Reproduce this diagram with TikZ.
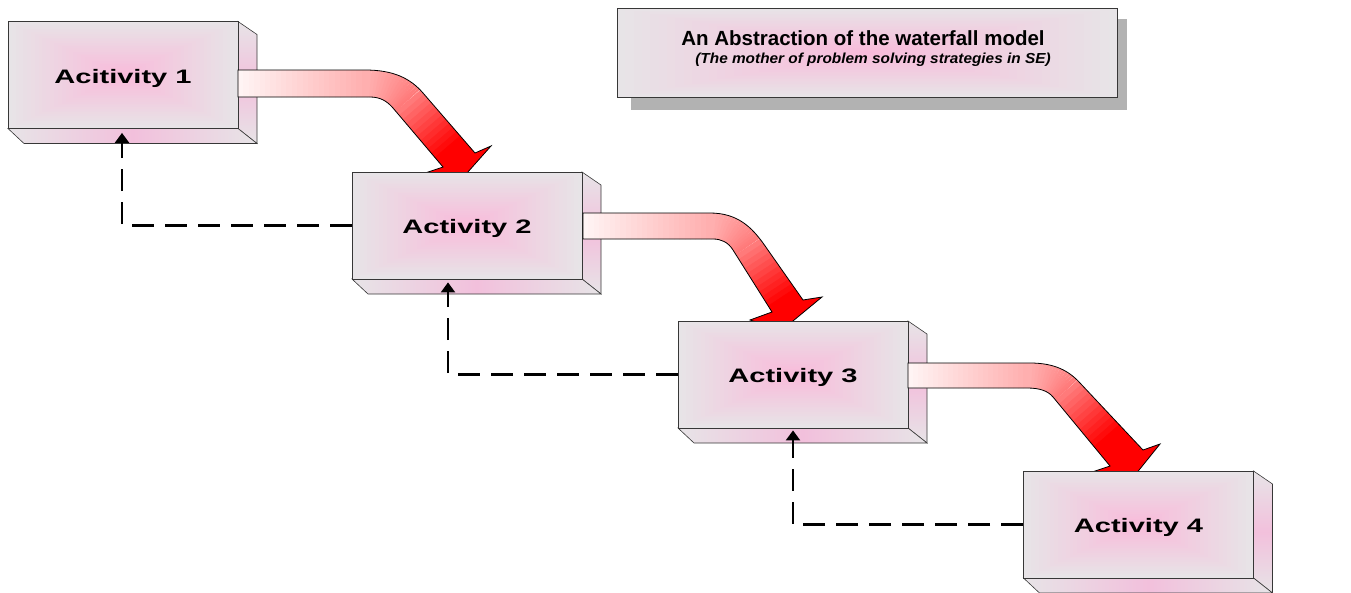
\documentclass[tikz,border=0pt]{standalone}
\usepackage{fontspec}
\setmainfont{Liberation Sans}
\usepackage{graphicx}
\usetikzlibrary{arrows.meta}

\definecolor{faceedge}{RGB}{231,228,231}
\definecolor{facecore}{RGB}{249,186,218}
\definecolor{sidepink}{RGB}{242,192,220}
\definecolor{outline}{RGB}{55,55,55}
\definecolor{shadowgray}{RGB}{178,178,178}
\definecolor{flowpale}{RGB}{255,244,244}
\definecolor{flowpink}{RGB}{255,175,175}
\definecolor{flowmid}{RGB}{255,122,122}

\tikzset{
  actnode/.style={draw=outline, line width=0.8pt, minimum width=230, minimum height=107,
    inner sep=0pt, text height=16pt, text depth=0pt,
    font=\bfseries\fontsize{19.5}{20}\selectfont},
  facedraw/.style={draw=outline, line width=0.6pt},
  flowedge/.style={draw=black, line width=0.8pt, line join=miter},
  flowband/.style={line width=90pt, line cap=butt},
  feedback/.style={draw=black, line width=2.2pt, dash pattern=on 22pt off 11pt,
    -{Triangle[length=10pt,width=14pt]}},
  titlenode/.style={draw=outline, line width=0.8pt, minimum width=500, minimum height=89,
    inner sep=0pt, align=center, font=\bfseries\fontsize{20.5}{18.3}\selectfont}
}

% rectangular "from centre" gradient: nested rectangles from grey rim to pink core
\newcommand{\rectgrad}[4]{%
  \foreach \k in {0,...,29}{%
    \pgfmathsetmacro{\gfr}{\k/30}%
    \pgfmathsetmacro{\gpc}{100*\gfr}%
    \fill[facecore!\gpc!faceedge]
      ({#1+(#3-#1)*\gfr/2},{#2+(#4-#2)*\gfr/2}) rectangle
      ({#3-(#3-#1)*\gfr/2},{#4-(#4-#2)*\gfr/2});
  }}

% colour bands laid along the centre line of a bent flow arrow:
% tail (#1,#2) straight to (#3,#2), bend with controls (#4,#5),(#6,#7) to (#8,#9), then straight on
\newcommand{\flowbands}[9]{%
  \foreach \i in {0,...,23}{%
    \pgfmathsetmacro{\fbxa}{#1+(#3-#1)*\i/24}%
    \pgfmathsetmacro{\fbxb}{#1+(#3-#1)*(\i+1)/24+0.8}%
    \pgfmathsetmacro{\fbmix}{100*\i/23}%
    \draw[flowband, flowpink!\fbmix!flowpale] (\fbxa,#2) -- (\fbxb,#2);
  }%
  \foreach \i in {0,...,15}{%
    \pgfmathsetmacro{\fta}{\i/16}%
    \pgfmathsetmacro{\ftb}{min(1,(\i+1.3)/16)}%
    \pgfmathsetmacro{\fpxa}{(1-\fta)*(1-\fta)*(1-\fta)*#3+3*(1-\fta)*(1-\fta)*\fta*#4+3*(1-\fta)*\fta*\fta*#6+\fta*\fta*\fta*#8}%
    \pgfmathsetmacro{\fpya}{(1-\fta)*(1-\fta)*(1-\fta)*#2+3*(1-\fta)*(1-\fta)*\fta*#5+3*(1-\fta)*\fta*\fta*#7+\fta*\fta*\fta*#9}%
    \pgfmathsetmacro{\fpxb}{(1-\ftb)*(1-\ftb)*(1-\ftb)*#3+3*(1-\ftb)*(1-\ftb)*\ftb*#4+3*(1-\ftb)*\ftb*\ftb*#6+\ftb*\ftb*\ftb*#8}%
    \pgfmathsetmacro{\fpyb}{(1-\ftb)*(1-\ftb)*(1-\ftb)*#2+3*(1-\ftb)*(1-\ftb)*\ftb*#5+3*(1-\ftb)*\ftb*\ftb*#7+\ftb*\ftb*\ftb*#9}%
    \pgfmathsetmacro{\fbmix}{100*\i/15}%
    \draw[flowband, flowmid!\fbmix!flowpink] (\fpxa,\fpya) -- (\fpxb,\fpyb);
  }%
  \pgfmathsetmacro{\fulen}{veclen(#8-#6,#9-#7)}%
  \pgfmathsetmacro{\fux}{(#8-#6)/\fulen}%
  \pgfmathsetmacro{\fuy}{(#9-#7)/\fulen}%
  \foreach \i in {0,...,11}{%
    \pgfmathsetmacro{\fbmix}{100*\i/11}%
    \draw[flowband, red!\fbmix!flowmid]
      ({#8+\fux*5.5*\i},{#9+\fuy*5.5*\i}) -- ({#8+\fux*(5.5*\i+6.3)},{#9+\fuy*(5.5*\i+6.3)});
  }%
  \draw[flowband, red] ({#8+\fux*66},{#9+\fuy*66}) -- ({#8+\fux*160},{#9+\fuy*160});
}

% a flow arrow: #1 its outline path, #2 the band call that colours it
\newcommand{\flowarrow}[2]{%
  \begin{scope}\clip #1;#2\end{scope}%
  \draw[flowedge] #1;}

\newcommand{\actlabel}[1]{\scalebox{1.49}[1]{#1}}

% a 3-D activity block: name, centre x, centre y, label
\newcommand{\actbox}[4]{%
  \pgfmathsetmacro{\bxl}{#2-115}\pgfmathsetmacro{\bxr}{#2+115}%
  \pgfmathsetmacro{\bxt}{#3-53.5}\pgfmathsetmacro{\bxb}{#3+53.5}%
  \shadedraw[facedraw, top color=faceedge, bottom color=faceedge, middle color=sidepink]
    (\bxr,\bxt) -- ({\bxr+19},{\bxt+13}) -- ({\bxr+19},{\bxb+15}) -- (\bxr,\bxb) -- cycle;
  \shadedraw[facedraw, left color=faceedge, right color=faceedge, middle color=sidepink]
    (\bxl,\bxb) -- (\bxr,\bxb) -- ({\bxr+19},{\bxb+15}) -- ({\bxl+16},{\bxb+15}) -- cycle;
  \rectgrad{\bxl}{\bxt}{\bxr}{\bxb}
  \node[actnode] (#1) at (#2,#3) {\actlabel{#4}};
}

\begin{document}
\begin{tikzpicture}[x=1pt,y=-1pt]
\useasboundingbox (0,0) rectangle (1351,592);

% title panel with drop shadow
\fill[shadowgray] (631,19) rectangle (1127,110);
\rectgrad{617}{8}{1117}{97}
\node[titlenode] (title) at (867,52.5)
  {An Abstraction of the waterfall model\hspace*{8pt}\\
   {\itshape\fontsize{14.5}{18.3}\selectfont\hspace*{12pt}\scalebox{1.06}[1]{(The mother of problem solving strategies in SE)}}\rule[-11pt]{0pt}{11pt}};

% blocks and the flow arrows between them (each head tucks under the next block)
\actbox{b1}{123}{75}{Acitivity 1}
\flowarrow{(238,70) -- (365,70) .. controls (393,70) and (410,78) .. (423,93)
  -- (475,153) -- (491,146) -- (459,182) -- (425,173) -- (443,167) -- (393,108)
  .. controls (387,101) and (380,97) .. (370,97) -- (238,97) -- cycle}
  {\flowbands{238}{83.5}{367}{385}{83.5}{400.2}{91.4}{408}{100.5}}

\actbox{b2}{467}{225.5}{Activity 2}
\flowarrow{(583,213) -- (710,213) .. controls (738,213) and (752,228) .. (763,243)
  -- (803,300) -- (822,297) -- (782,330) -- (750,320) -- (772,312) -- (733,250)
  .. controls (728,242) and (721,239) .. (713,239) -- (583,239) -- cycle}
  {\flowbands{583}{226}{711.5}{729.5}{226}{741.4}{236.5}{748}{246.5}}

\actbox{b3}{793}{374.5}{Activity 3}
\flowarrow{(908,363) -- (1030,363) .. controls (1055,363) and (1069,371) .. (1080,383)
  -- (1143,450) -- (1160,444) -- (1131,480) -- (1095,471) -- (1110,466) -- (1053,397)
  .. controls (1048,391) and (1040,388) .. (1027,388) -- (908,388) -- cycle}
  {\flowbands{908}{375.5}{1028.5}{1046.5}{375.5}{1058.6}{381}{1066.5}{390}}

\actbox{b4}{1138.5}{524.5}{Activity 4}

% feedback paths back to the previous activity
\draw[feedback] (b2.west) -| ([xshift=-1,yshift=-4]b1.south);
\draw[feedback] (b3.west) -| ([xshift=-19,yshift=-3]b2.south);
\draw[feedback] (b4.west) -| ([yshift=-2]b3.south);
\end{tikzpicture}
\end{document}
